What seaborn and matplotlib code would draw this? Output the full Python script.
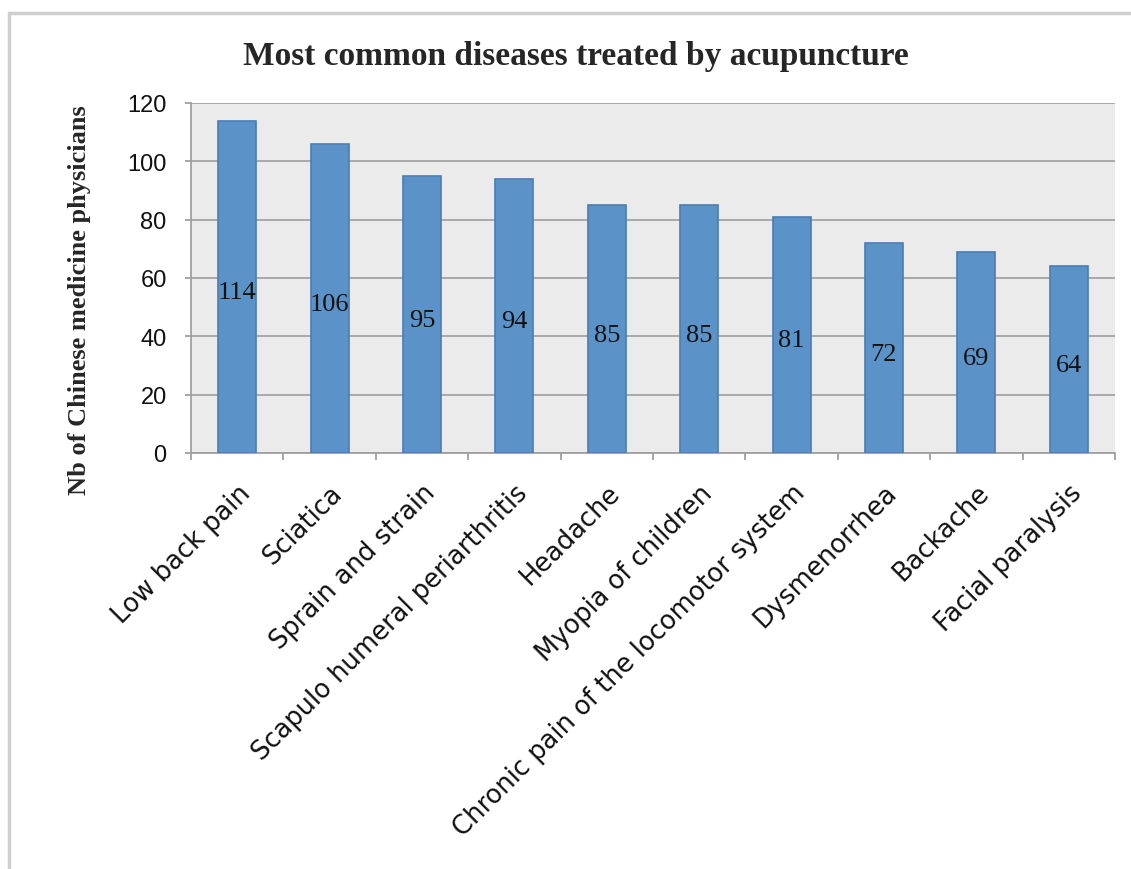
import matplotlib
matplotlib.use("Agg")
import matplotlib.pyplot as plt
from matplotlib.patches import Rectangle
from matplotlib.ticker import FixedLocator
import seaborn as sns
import pandas as pd

diseases = [
    "Low back pain", "Sciatica", "Sprain and strain",
    "Scapulo humeral periarthritis", "Headache", "Myopia of children",
    "Chronic pain of the locomotor system", "Dysmenorrhea", "Backache",
    "Facial paralysis",
]
physicians = [114, 106, 95, 94, 85, 85, 81, 72, 69, 64]
y_ticks = [0, 20, 40, 60, 80, 100, 120]

df = pd.DataFrame({"disease": diseases, "count": physicians})

sns.set_style("white")
W, H = 1131, 870
fig = plt.figure(figsize=(W / 100, H / 100), dpi=100)
ax = fig.add_axes([191 / W, 1 - 454 / H, (1115 - 191) / W, (454 - 104) / H])
ax.set_facecolor("#ebebeb")

sns.barplot(data=df, x="disease", y="count", ax=ax, width=0.41,
            color="#5b93c9", saturation=1, edgecolor="#4a7db3", linewidth=1.2,
            zorder=3)

ax.set_ylim(0, 120)
ax.set_xlim(-0.5, len(diseases) - 0.5)
ax.yaxis.set_major_locator(FixedLocator(y_ticks))
ax.grid(axis="y", color="#a3a3a3", linewidth=1.3, zorder=0)
ax.set_axisbelow(True)

for side in ("top", "right"):
    ax.spines[side].set_visible(False)
for side in ("left", "bottom"):
    ax.spines[side].set_color("#a0a0a0")
    ax.spines[side].set_linewidth(1.3)

ax.tick_params(axis="y", which="major", length=4.5, width=1.3, color="#a0a0a0",
               labelsize=17, pad=13, left=True)
ax.set_yticklabels([str(v) for v in y_ticks], fontfamily="Liberation Sans",
                   color="#111111")

# category boundaries carry the tick marks, labels sit at bar centres
ax.xaxis.set_minor_locator(FixedLocator([i - 0.5 for i in range(len(diseases) + 1)]))
ax.tick_params(axis="x", which="minor", length=5, width=1.3, color="#a0a0a0",
               bottom=True)
ax.tick_params(axis="x", which="major", length=0, pad=19)
ax.set_xticks(range(len(diseases)))
ax.set_xticklabels(diseases, rotation=45, ha="right", rotation_mode="anchor",
                   fontsize=18.5, fontfamily="DejaVu Sans", color="#111111")

# value labels in the middle of each bar
for i, v in enumerate(physicians):
    ax.annotate(str(v), xy=(i, v / 2), xytext=(0, -4), textcoords="offset points",
                ha="center", va="center", fontsize=19,
                fontfamily="Liberation Serif", color="#111111", zorder=4)

ax.set_xlabel("")
ax.set_ylabel("Nb of Chinese medicine physicians", fontsize=19,
              fontweight="bold", fontfamily="Liberation Serif")
ax.yaxis.set_label_coords(-0.108, 0.44)

fig.text(576 / W, 1 - 57 / H, "Most common diseases treated by acupuncture",
         ha="center", va="center", fontsize=24, fontweight="bold",
         fontfamily="Liberation Serif")

# chart-area border
fig.patches.append(Rectangle((9 / W, -0.05), 1.2, 1 - 14 / H + 0.05,
                             transform=fig.transFigure, fill=False,
                             edgecolor="#cfcfcf", linewidth=2.5))

fig.savefig("out.png", dpi=100)
